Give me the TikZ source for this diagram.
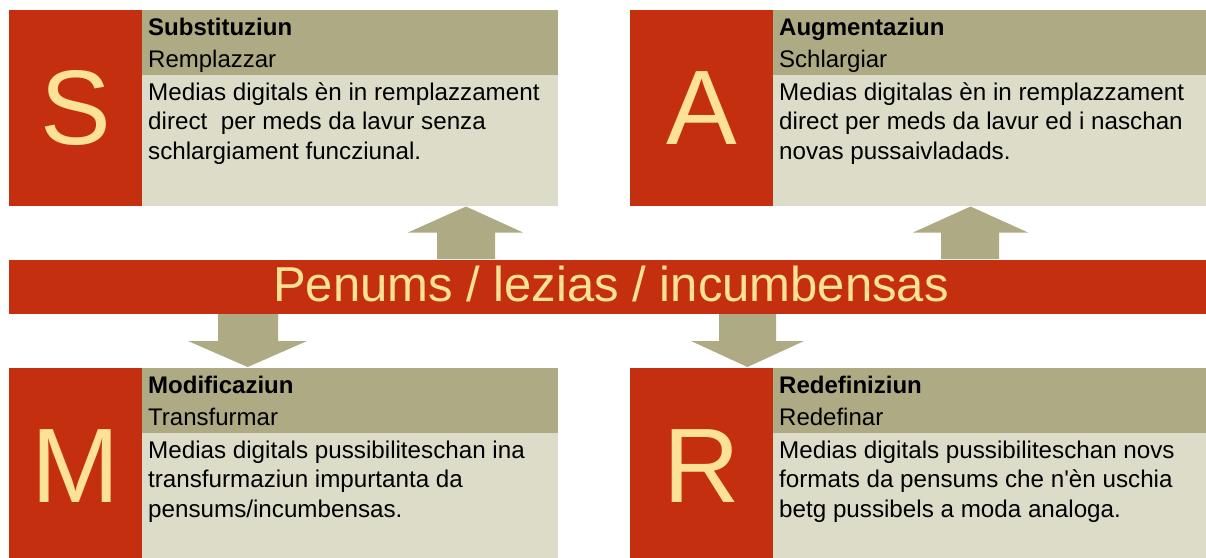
\documentclass[tikz,border=0pt]{standalone}
\usepackage{fontspec}
\setmainfont{Liberation Sans}
\newfontfamily\samrnomap{Liberation Sans}
\definecolor{samrred}{HTML}{C4300F}
\definecolor{samrolive}{HTML}{ADAA84}
\definecolor{samrlight}{HTML}{DCDCC9}
\definecolor{samrletter}{HTML}{FDE196}
\tikzset{
  redsq/.style={fill=samrred, draw=none, inner sep=0pt, text=samrletter,
    font=\fontsize{106}{106}\selectfont, text depth=0pt},
  headtxt/.style={anchor=base west, inner sep=0pt, text=black},
  bodytxt/.style={anchor=base west, inner sep=0pt, text=black},
  bandtxt/.style={anchor=base, inner sep=0pt, text=samrletter,
    font=\fontsize{49}{49}\selectfont},
  blockarrow/.style={fill=samrolive, draw=none}
}
% #1 left, #2 top, #3 red right, #4 box right, #5 letter, #6 title, #7 subtitle, #8 body, #9 name
\newcommand\samrbox[9]{%
  \fill[samrolive] (#3,#2) rectangle (#4,#2+64.5);
  \fill[samrlight] (#3,#2+64.5) rectangle (#4,#2+195.5);
  \node[redsq, minimum width=#3-#1, minimum height=195.5, anchor=north west]
    (#9L) at (#1,#2) {#5};
  \node[headtxt] (#9H) at (#3+6,#2+25.7)
    {\parbox[t]{400pt}{\samrnomap\fontsize{24}{31.7}\selectfont\textbf{#6}\\#7}};
  \node[bodytxt] (#9B) at (#3+6,#2+90)
    {\parbox[t]{440pt}{\samrnomap\fontsize{24.2}{29.8}\selectfont #8}};
}
\begin{document}
\begin{tikzpicture}[x=1pt,y=-1pt]
\useasboundingbox (0,0) rectangle (1206,557);
\fill[white] (0,0) rectangle (1206,557);

\samrbox{9}{10}{142}{558}{S}{Substituziun}{Remplazzar}%
  {Medias digitals èn in remplazzament\\direct\ \ per meds da lavur senza\\schlargiament funcziunal.}{s}
\samrbox{630}{10}{773}{1206}{A}{Augmentaziun}{Schlargiar}%
  {Medias digitalas èn in remplazzament\\direct per meds da lavur ed i naschan\\novas pussaivladads.}{a}
\samrbox{9}{368}{142}{558}{M}{Modificaziun}{Transfurmar}%
  {Medias digitals pussibiliteschan ina\\transfurmaziun impurtanta da\\pensums/incumbensas.}{m}
\samrbox{630}{368}{773}{1206}{R}{Redefiniziun}{Redefinar}%
  {Medias digitals pussibiliteschan novs\\formats da pensums che n'èn uschia\\betg pussibels a moda analoga.}{r}

% central band
\fill[samrred] (9,260) rectangle (1206,314);
\node[bandtxt] (band) at (611,301.7) {Penums / lezias / incumbensas};

% up arrows
\fill[blockarrow] (437,259) -- (437,232.5) -- (408,232.5) -- (466,206.5)
  -- (523,232.5) -- (495,232.5) -- (495,259) -- cycle;
\fill[blockarrow] (941,259) -- (941,232.5) -- (913,232.5) -- (970.5,206.5)
  -- (1028,232.5) -- (999,232.5) -- (999,259) -- cycle;
% down arrows
\fill[blockarrow] (218,314) -- (218,341) -- (188,341) -- (247.7,367)
  -- (307,341) -- (278,341) -- (278,314) -- cycle;
\fill[blockarrow] (719,314) -- (719,341) -- (691,341) -- (747.5,367)
  -- (804,341) -- (776,341) -- (776,314) -- cycle;
\end{tikzpicture}
\end{document}
